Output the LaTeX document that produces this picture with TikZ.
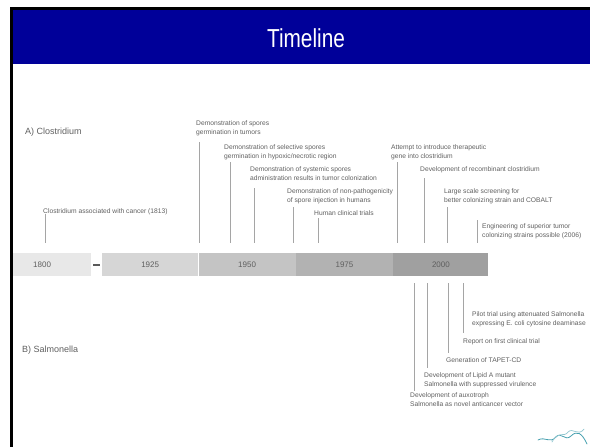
\documentclass[tikz,border=0pt]{standalone}
\usepackage{fontspec}
\setmainfont{Liberation Sans}
\usepackage{tikz}
\definecolor{slideblue}{RGB}{0,0,153}
\definecolor{labelgray}{RGB}{95,95,95}
\definecolor{tickgray}{RGB}{165,165,165}
\definecolor{wave}{RGB}{70,160,175}
\tikzset{%
    event/.style={anchor=north west, inner sep=0pt, align=left,
        font=\fontsize{6.7}{8.3}\selectfont, text=labelgray},
    tick/.style={draw=tickgray, line width=0.6pt},
    section/.style={anchor=west, inner sep=0pt, font=\fontsize{9}{10}\selectfont, text=labelgray},
    era/.style={minimum height=23pt, inner sep=0pt, anchor=west,
        font=\fontsize{8}{9}\selectfont, text=labelgray}
}

\begin{document}
\begin{tikzpicture}[x=1pt,y=-1pt]
  \useasboundingbox (0,0) rectangle (590,447);
  % frame and title bar
  \fill[black] (10,7) rectangle (590,10);
  \fill[black] (10,7) rectangle (13,447);
  \fill[slideblue] (13,10) rectangle (590,64);
  \node[anchor=base, inner sep=0pt, text=white, font=\fontsize{26}{26}\selectfont] (title) at (306,47) {\scalebox{0.8}[1]{Timeline}};

  % the time axis
  \node[era, fill={rgb,255:red,232;green,232;blue,232}, minimum width=78pt, text width=38pt, inner xsep=20pt, align=left] (y1800) at (13,264.5) {1800};
  \node[era, fill={rgb,255:red,214;green,214;blue,214}, minimum width=96pt] (y1925) at (102,264.5) {1925};
  \node[era, fill={rgb,255:red,196;green,196;blue,196}, minimum width=97pt] (y1950) at (y1925.east) {1950};
  \node[era, fill={rgb,255:red,178;green,178;blue,178}, minimum width=97pt] (y1975) at (y1950.east) {1975};
  \node[era, fill={rgb,255:red,160;green,160;blue,160}, minimum width=95pt] (y2000) at (y1975.east) {2000};
  \draw[line width=2pt, draw={rgb,255:red,90;green,90;blue,90}] ([xshift=2pt]y1800.east) -- ([xshift=-2pt]y1925.west);

  \coordinate (axA) at (0,243);
  \coordinate (axB) at (0,283);

  % A) Clostridium
  \node[section] (headA) at (25,132) {A) Clostridium};
  \node[event] (e1813) at (43,208.7) {Clostridium associated with cancer (1813)};
  \node[event] (eSpores) at (196,120.7) {Demonstration of spores\\germination in tumors};
  \node[event] (eSelect) at (224,144.7) {Demonstration of selective spores\\germination in hypoxic/necrotic region};
  \node[event] (eSystem) at (250,166.7) {Demonstration of systemic spores\\administration results in tumor colonization};
  \node[event] (eNonPath) at (287,188.7) {Demonstration of non-pathogenicity\\of spore injection in humans};
  \node[event] (eHuman) at (314,210.7) {Human clinical trials};
  \node[event] (eAttempt) at (391,144.7) {Attempt to introduce therapeutic\\gene into clostridium};
  \node[event] (eRecomb) at (420,166.7) {Development of recombinant clostridium};
  \node[event] (eScreen) at (444,188.7) {Large scale screening for\\better colonizing strain and COBALT};
  \node[event] (eEngin) at (482,223.7) {Engineering of superior tumor\\colonizing strains possible (2006)};

  \coordinate (t1813) at (45,214);
  \coordinate (tSpores) at (199,142);
  \coordinate (tSelect) at (230,162);
  \coordinate (tSystem) at (254,188);
  \coordinate (tNonPath) at (293,207);
  \coordinate (tHuman) at (318,218);
  \coordinate (tAttempt) at (397,162);
  \coordinate (tRecomb) at (424,178);
  \coordinate (tScreen) at (447,207);
  \coordinate (tEngin) at (477,220);
  \draw[tick] (t1813) -- (t1813 |- axA);
  \draw[tick] (tSpores) -- (tSpores |- axA);
  \draw[tick] (tSelect) -- (tSelect |- axA);
  \draw[tick] (tSystem) -- (tSystem |- axA);
  \draw[tick] (tNonPath) -- (tNonPath |- axA);
  \draw[tick] (tHuman) -- (tHuman |- axA);
  \draw[tick] (tAttempt) -- (tAttempt |- axA);
  \draw[tick] (tRecomb) -- (tRecomb |- axA);
  \draw[tick] (tScreen) -- (tScreen |- axA);
  \draw[tick] (tEngin) -- (tEngin |- axA);

  % B) Salmonella
  \node[section] (headB) at (22,350) {B) Salmonella};
  \node[event] (sPilot) at (472,311.7) {Pilot trial using attenuated Salmonella\\expressing E. coli cytosine deaminase};
  \node[event] (sReport) at (463,338.7) {Report on first clinical trial};
  \node[event] (sTapet) at (446,357.7) {Generation of TAPET-CD};
  \node[event] (sLipid) at (424,372.7) {Development of Lipid A mutant\\Salmonella with suppressed virulence};
  \node[event] (sAuxo) at (410,392.7) {Development of auxotroph\\Salmonella as novel anticancer vector};

  \coordinate (bReport) at (463,333);
  \coordinate (bTapet) at (448,353);
  \coordinate (bLipid) at (427,368);
  \coordinate (bAuxo) at (414,391);
  \draw[tick] (bReport |- axB) -- (bReport);
  \draw[tick] (bTapet |- axB) -- (bTapet);
  \draw[tick] (bLipid |- axB) -- (bLipid);
  \draw[tick] (bAuxo |- axB) -- (bAuxo);

  % little logo, bottom right
  \draw[wave, line width=0.8pt, line cap=round] (538,440) .. controls (545,436) and (550,444) .. (556,437) .. controls (561,431) and (565,442) .. (571,436) .. controls (577,430) and (582,433) .. (587,444);
  \draw[wave!60, line width=0.7pt, line cap=round] (552,442) .. controls (558,430) and (564,438) .. (568,432) .. controls (573,427) and (578,437) .. (584,429);
\end{tikzpicture}
\end{document}
